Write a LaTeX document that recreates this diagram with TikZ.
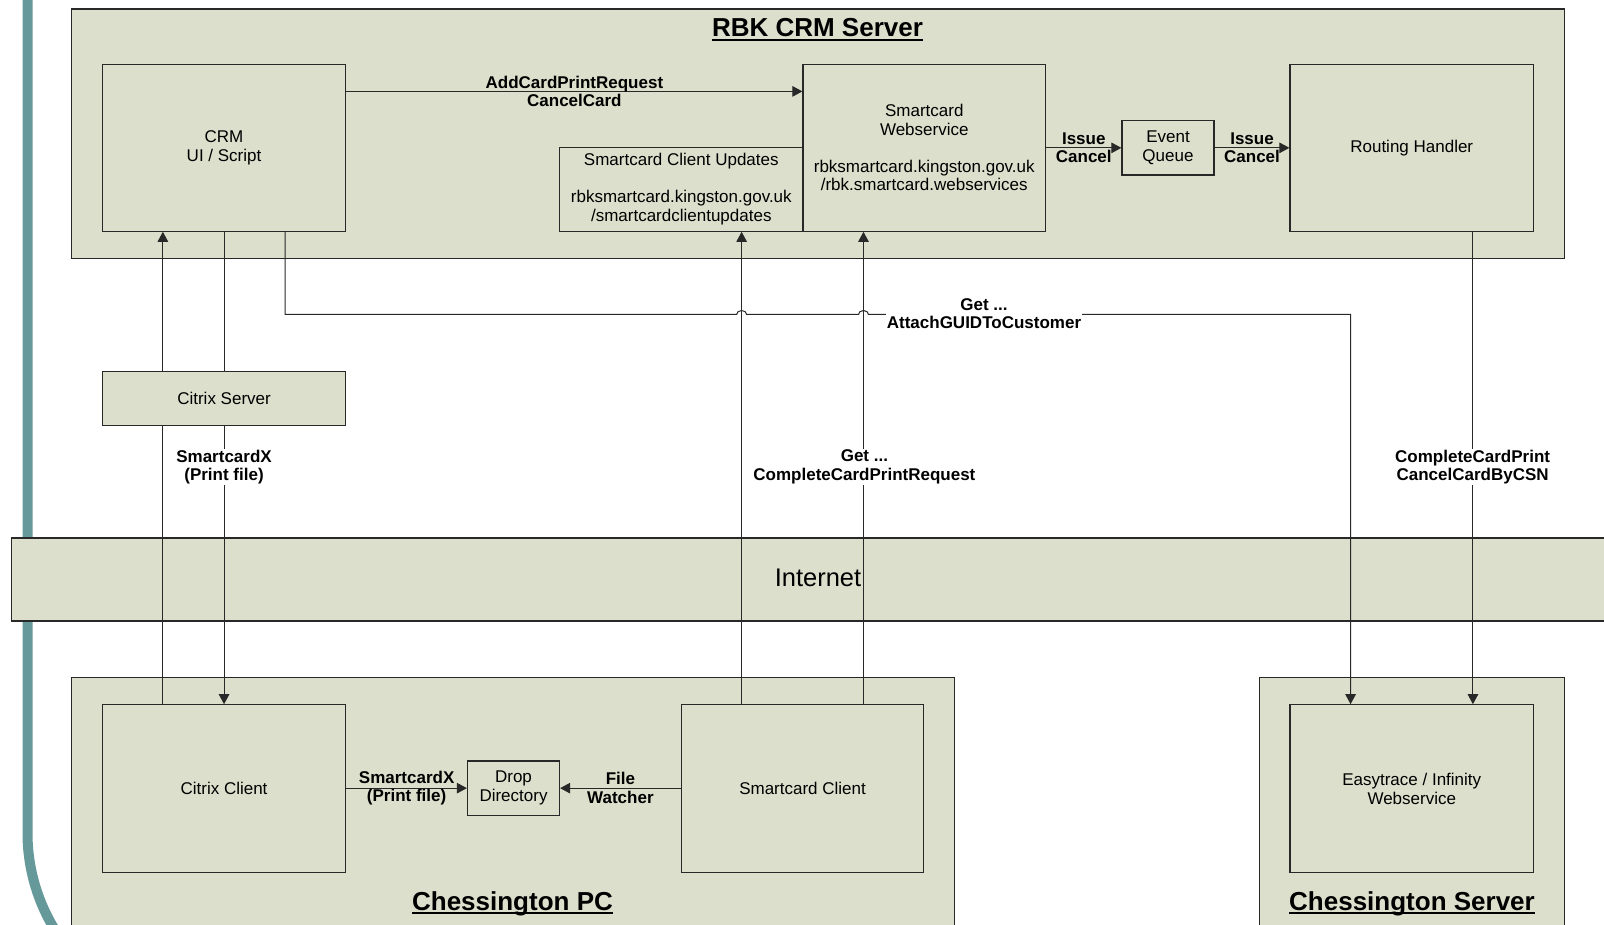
\documentclass[tikz,border=0pt]{standalone}
\usepackage{fontspec}
\setmainfont{Liberation Sans}
\usetikzlibrary{arrows.meta,calc}
\definecolor{panel}{RGB}{220,223,203}
\definecolor{stripe}{RGB}{102,153,153}
\definecolor{ink}{RGB}{40,40,40}
\begin{document}
\begin{tikzpicture}[x=1pt,y=-1pt,
  container/.style={draw=ink, line width=1.4pt, fill=panel, inner sep=0pt},
  box/.style={draw=ink, line width=1.2pt, fill=panel, inner sep=2pt, align=center,
    font=\fontsize{17}{18.5}\selectfont},
  conn/.style={draw=ink, line width=1pt},
  arr/.style={-{Triangle[length=10pt,width=10.5pt]}},
  lab/.style={font=\fontsize{17}{18.5}\selectfont\bfseries, align=center, inner sep=1pt},
  wlab/.style={lab, fill=white},
  titletext/.style={font=\fontsize{26}{29}\selectfont\bfseries, inner sep=0pt, anchor=base},
  uline/.style={draw=black, line width=2pt},
]
\useasboundingbox (0,0) rectangle (1604,925);
\clip (0,0) rectangle (1604,925);
\fill[white] (0,0) rectangle (1604,925);
% decorative stripe
\draw[stripe, line width=10pt] (27.5,-20) -- (27.5,833) arc[start angle=180, end angle=130, radius=185];

% containers
\node[container, minimum width=1492.6pt, minimum height=249.6pt] (rbk) at (817.9,134) {};
\node[container, minimum width=1620pt, minimum height=83pt] (inet) at (821.3,579.5) {};
\node[font=\fontsize{25.5}{28}\selectfont, inner sep=0pt] (inettxt) at (818,578) {Internet};
\node[container, minimum width=883pt, minimum height=300pt] (cpc) at (513,827.2) {};
\node[container, minimum width=305pt, minimum height=300pt] (csrv) at (1411.75,827.2) {};

% titles
\node[titletext] (rbkt) at (817.5,37) {RBK CRM Server};
\draw[uline] ([yshift=-2.6pt]rbkt.base west) -- ([yshift=-2.6pt]rbkt.base east);
\node[titletext] (cpct) at (512.5,910.5) {Chessington PC};
\draw[uline] ([yshift=-2.2pt]cpct.base west) -- ([yshift=-2.2pt]cpct.base east);
\node[titletext] (csrvt) at (1412,910.5) {Chessington Server};
\draw[uline] ([yshift=-2.2pt]csrvt.base west) -- ([yshift=-2.2pt]csrvt.base east);

% boxes
\node[box, minimum width=243.5pt, minimum height=166.8pt] (crm) at (224.05,147.8) {CRM\\UI / Script};
\node[box, minimum width=243.4pt, minimum height=83.9pt] (upd) at (681.3,189.25)
  {Smartcard Client Updates\\[18.5pt]rbksmartcard.kingston.gov.uk\\/smartcardclientupdates};
\node[box, minimum width=242.5pt, minimum height=166.8pt] (ws) at (924.25,147.8)
  {Smartcard\\Webservice\\[18.5pt]rbksmartcard.kingston.gov.uk\\/rbk.smartcard.webservices};
\node[box, minimum width=92pt, minimum height=54.3pt] (eq) at (1168,147.85) {Event\\Queue};
\node[box, minimum width=243.5pt, minimum height=166.8pt] (rh) at (1411.75,147.8) {Routing Handler};
\node[box, minimum width=243.5pt, minimum height=54.3pt] (cs) at (224.05,398.45) {Citrix Server};
\node[box, minimum width=243.5pt, minimum height=167.8pt] (cc) at (224.05,788.7) {Citrix Client};
\node[box, minimum width=92pt, minimum height=54.3pt] (drop) at (513.5,788.15) {Drop\\Directory};
\node[box, minimum width=242.5pt, minimum height=167.8pt] (smc) at (802.55,788.7) {Smartcard Client};
\node[box, minimum width=243.5pt, minimum height=167.8pt] (eaz) at (1411.75,788.7) {Easytrace / Infinity\\Webservice};

% helper points on box edges
\coordinate (crmq1) at ($(crm.south west)!0.25!(crm.south east)$);
\coordinate (crmq3) at ($(crm.south west)!0.75!(crm.south east)$);
\coordinate (smcq1) at ($(smc.north west)!0.25!(smc.north east)$);
\coordinate (smcq3) at ($(smc.north west)!0.75!(smc.north east)$);
\coordinate (rhq3) at ($(rh.south west)!0.75!(rh.south east)$);
\coordinate (eazq1) at ($(eaz.north west)!0.25!(eaz.north east)$);
\coordinate (route) at (0,314.5);
\coordinate (crmout) at ($(crm.north east)+(0,27.6)$);

% connectors inside RBK
\draw[conn, arr] (crmout) -- (crmout -| ws.west)
  node[midway, lab] (l1) {AddCardPrintRequest\\CancelCard};
\draw[conn, arr] (ws.east |- eq.west) -- (eq.west)
  node[midway, lab] (l2) {Issue\\Cancel};
\draw[conn, arr] (eq.east) -- (eq.east -| rh.west)
  node[midway, lab] (l3) {Issue\\Cancel};

% Citrix lines
\draw[conn] (crmq1 |- cc.north) -- (crmq1 |- cs.south);
\draw[conn, arr] (crmq1 |- cs.north) -- (crmq1);
\draw[conn] (crm.south) -- (crm.south |- cs.north);
\draw[conn, arr] (crm.south |- cs.south) -- (cc.north);

% smartcard client lines
\draw[conn, arr] (smcq1) -- (smcq1 |- upd.south);
\draw[conn, arr] (smcq3) -- (smcq3 |- ws.south);

% routing handler to easytrace
\draw[conn, arr] (rhq3) -- (rhq3 |- eaz.north);

% CRM to easytrace with line hops
\draw[conn, arr] (crmq3) -- (crmq3 |- route)
  -- ($(smcq1 |- route)+(-5,0)$) arc[start angle=180, end angle=360, x radius=5, y radius=4]
  -- ($(smcq3 |- route)+(-5,0)$) arc[start angle=180, end angle=360, x radius=5, y radius=4]
  -- (eazq1 |- route) -- (eazq1);

% bottom connectors
\draw[conn, arr] (cc.east |- drop.west) -- (drop.west)
  node[midway, lab] (l4) {SmartcardX\\(Print file)};
\draw[conn, arr] (smc.west |- drop.east) -- (drop.east)
  node[midway, lab] (l5) {File\\Watcher};

% labels on white
\node[wlab] (l6) at (984,313.5) {Get ...\\AttachGUIDToCustomer};
\node[wlab] (l7) at (224.05,467) {SmartcardX\\(Print file)};
\node[wlab] (l8) at (864.4,467) {Get ...\\CompleteCardPrintRequest};
\node[wlab] (l9) at (1472.6,467) {CompleteCardPrint\\CancelCardByCSN};
\end{tikzpicture}
\end{document}
